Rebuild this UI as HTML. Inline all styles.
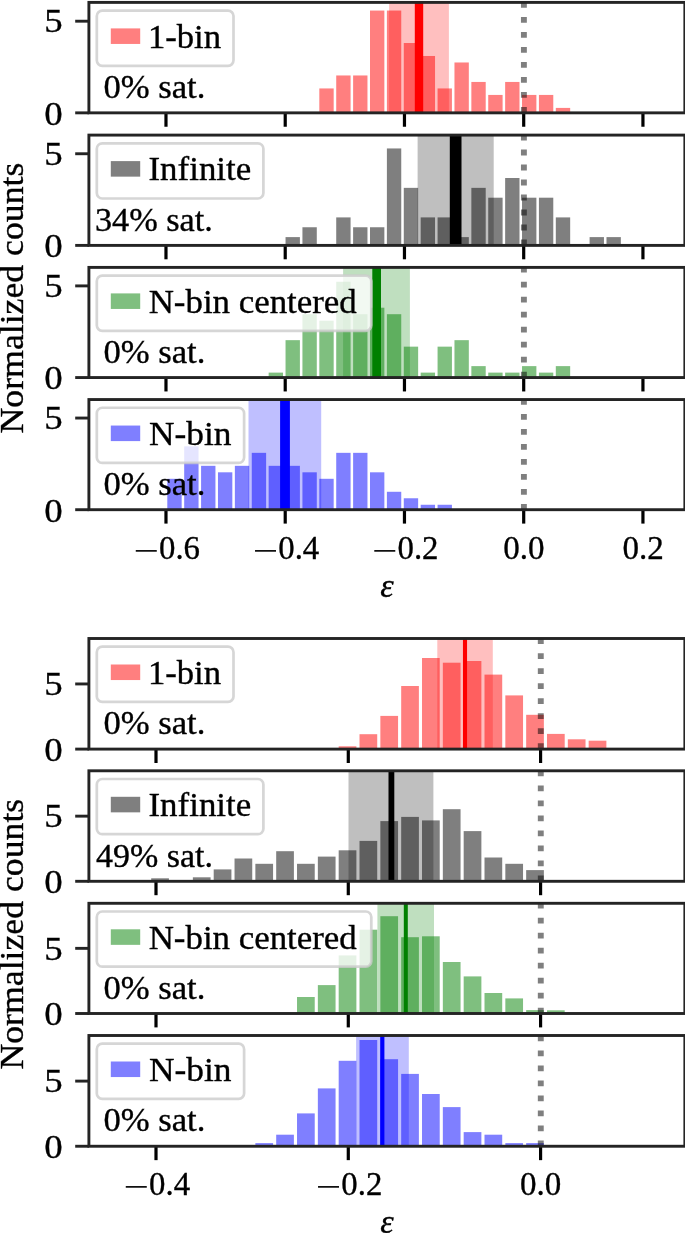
<!DOCTYPE html>
<html lang="en"><head><meta charset="utf-8"><title>Normalized counts histograms</title>
<style>html,body{margin:0;padding:0;background:#fff}svg{display:block}text{font-family:'Liberation Serif', serif;fill:#000;stroke:#000;stroke-width:0.35px}</style>
</head><body>
<svg width="685" height="1233" viewBox="0 0 685 1233">
<rect width="685" height="1233" fill="#fff"/>
<clipPath id="c2"><rect x="88.9" y="2.4" width="595.95" height="110.45"/></clipPath>
<g clip-path="url(#c2)">
<g fill="#ff0000" fill-opacity="0.5">
<rect x="319.32" y="88.44" width="14.36" height="24.41"/>
<rect x="336.22" y="75.46" width="14.36" height="37.39"/>
<rect x="353.11" y="75.46" width="14.36" height="37.39"/>
<rect x="370" y="10.56" width="14.36" height="102.29"/>
<rect x="386.89" y="10.56" width="14.36" height="102.29"/>
<rect x="403.78" y="43.01" width="14.36" height="69.84"/>
<rect x="420.68" y="55.99" width="14.36" height="56.86"/>
<rect x="437.57" y="88.44" width="14.36" height="24.41"/>
<rect x="454.46" y="62.48" width="14.36" height="50.37"/>
<rect x="471.35" y="81.95" width="14.36" height="30.9"/>
<rect x="488.24" y="94.93" width="14.36" height="17.92"/>
<rect x="505.14" y="81.95" width="14.36" height="30.9"/>
<rect x="522.03" y="94.93" width="14.36" height="17.92"/>
<rect x="538.92" y="94.93" width="14.36" height="17.92"/>
<rect x="555.81" y="107.91" width="14.36" height="4.94"/>
</g>
<rect x="389.1" y="2.4" width="59.8" height="110.45" fill="#ff0000" fill-opacity="0.25"/>
<rect x="414.8" y="2.4" width="8.4" height="110.45" fill="#ff0000"/>
<line x1="523.9" y1="112.85" x2="523.9" y2="-0.6" stroke="#000" stroke-opacity="0.5" stroke-width="5.9" stroke-dasharray="5.8 9.2"/>
</g>
<g stroke="#000" stroke-width="3.2">
<line x1="165.98" y1="112.85" x2="165.98" y2="126.75"/>
<line x1="285.22" y1="112.85" x2="285.22" y2="126.75"/>
<line x1="404.46" y1="112.85" x2="404.46" y2="126.75"/>
<line x1="523.7" y1="112.85" x2="523.7" y2="126.75"/>
<line x1="642.94" y1="112.85" x2="642.94" y2="126.75"/>
</g>
<g stroke="#242424" stroke-width="2.9">
<line x1="75.2" y1="112.85" x2="88.9" y2="112.85"/>
<line x1="75.2" y1="21.2" x2="88.9" y2="21.2"/>
</g>
<rect x="88.9" y="2.4" width="595.95" height="110.45" fill="none" stroke="#242424" stroke-width="2.9"/>
<text x="44.3" y="32.4" font-size="33.5" textLength="18.4" lengthAdjust="spacingAndGlyphs">5</text>
<text x="44.3" y="124.75" font-size="33.5" textLength="18.4" lengthAdjust="spacingAndGlyphs">0</text>
<text x="103.4" y="98.3" font-size="33.5" textLength="102" lengthAdjust="spacingAndGlyphs">0% sat.</text>
<rect x="96.8" y="10.6" width="136.7" height="55.2" rx="5.5" fill="#fff" fill-opacity="0.8" stroke="#ccc" stroke-opacity="0.8" stroke-width="2.7"/>
<rect x="110.8" y="28.4" width="29.4" height="15.55" fill="#ff0000" fill-opacity="0.5"/>
<text x="147.9" y="47.7" font-size="33.5" textLength="73.2" lengthAdjust="spacingAndGlyphs">1-bin</text>
<clipPath id="c135"><rect x="88.9" y="135.1" width="595.95" height="110.3"/></clipPath>
<g clip-path="url(#c135)">
<g fill="#000000" fill-opacity="0.5">
<rect x="285.54" y="237.1" width="14.36" height="8.3"/>
<rect x="302.43" y="227.25" width="14.36" height="18.15"/>
<rect x="336.22" y="217.4" width="14.36" height="28"/>
<rect x="353.11" y="227.25" width="14.36" height="18.15"/>
<rect x="370" y="227.25" width="14.36" height="18.15"/>
<rect x="386.89" y="148.45" width="14.36" height="96.95"/>
<rect x="403.78" y="187.85" width="14.36" height="57.55"/>
<rect x="420.68" y="217.4" width="14.36" height="28"/>
<rect x="437.57" y="217.4" width="14.36" height="28"/>
<rect x="454.46" y="237.1" width="14.36" height="8.3"/>
<rect x="471.35" y="187.85" width="14.36" height="57.55"/>
<rect x="488.24" y="197.7" width="14.36" height="47.7"/>
<rect x="505.14" y="178" width="14.36" height="67.4"/>
<rect x="522.03" y="197.7" width="14.36" height="47.7"/>
<rect x="538.92" y="197.7" width="14.36" height="47.7"/>
<rect x="555.81" y="217.4" width="14.36" height="28"/>
<rect x="589.6" y="237.1" width="14.36" height="8.3"/>
<rect x="606.49" y="237.1" width="14.36" height="8.3"/>
</g>
<rect x="417.6" y="135.1" width="76.1" height="110.3" fill="#000000" fill-opacity="0.25"/>
<rect x="449.8" y="135.1" width="11.7" height="110.3" fill="#000000"/>
<line x1="523.9" y1="245.4" x2="523.9" y2="132.1" stroke="#000" stroke-opacity="0.5" stroke-width="5.9" stroke-dasharray="5.8 9.2"/>
</g>
<g stroke="#000" stroke-width="3.2">
<line x1="165.98" y1="245.4" x2="165.98" y2="259.3"/>
<line x1="285.22" y1="245.4" x2="285.22" y2="259.3"/>
<line x1="404.46" y1="245.4" x2="404.46" y2="259.3"/>
<line x1="523.7" y1="245.4" x2="523.7" y2="259.3"/>
<line x1="642.94" y1="245.4" x2="642.94" y2="259.3"/>
</g>
<g stroke="#242424" stroke-width="2.9">
<line x1="75.2" y1="245.4" x2="88.9" y2="245.4"/>
<line x1="75.2" y1="153.75" x2="88.9" y2="153.75"/>
</g>
<rect x="88.9" y="135.1" width="595.95" height="110.3" fill="none" stroke="#242424" stroke-width="2.9"/>
<text x="44.3" y="164.95" font-size="33.5" textLength="18.4" lengthAdjust="spacingAndGlyphs">5</text>
<text x="44.3" y="257.3" font-size="33.5" textLength="18.4" lengthAdjust="spacingAndGlyphs">0</text>
<text x="94.9" y="231" font-size="33.5" textLength="118" lengthAdjust="spacingAndGlyphs">34% sat.</text>
<rect x="96.8" y="143.3" width="166.6" height="55.2" rx="5.5" fill="#fff" fill-opacity="0.8" stroke="#ccc" stroke-opacity="0.8" stroke-width="2.7"/>
<rect x="110.8" y="161.1" width="29.4" height="15.55" fill="#000000" fill-opacity="0.5"/>
<text x="148.5" y="180.4" font-size="33.5" textLength="102.7" lengthAdjust="spacingAndGlyphs">Infinite</text>
<clipPath id="c267"><rect x="88.9" y="267.4" width="595.95" height="110.15"/></clipPath>
<g clip-path="url(#c267)">
<g fill="#008000" fill-opacity="0.5">
<rect x="268.65" y="372.61" width="14.36" height="4.94"/>
<rect x="285.54" y="340.16" width="14.36" height="37.39"/>
<rect x="302.43" y="314.2" width="14.36" height="63.35"/>
<rect x="319.32" y="320.69" width="14.36" height="56.86"/>
<rect x="336.22" y="281.75" width="14.36" height="95.8"/>
<rect x="353.11" y="314.2" width="14.36" height="63.35"/>
<rect x="370" y="307.71" width="14.36" height="69.84"/>
<rect x="386.89" y="314.2" width="14.36" height="63.35"/>
<rect x="403.78" y="346.65" width="14.36" height="30.9"/>
<rect x="420.68" y="372.61" width="14.36" height="4.94"/>
<rect x="437.57" y="346.65" width="14.36" height="30.9"/>
<rect x="454.46" y="340.16" width="14.36" height="37.39"/>
<rect x="471.35" y="366.12" width="14.36" height="11.43"/>
<rect x="488.24" y="372.61" width="14.36" height="4.94"/>
<rect x="505.14" y="372.61" width="14.36" height="4.94"/>
<rect x="522.03" y="366.12" width="14.36" height="11.43"/>
<rect x="538.92" y="372.61" width="14.36" height="4.94"/>
<rect x="555.81" y="366.12" width="14.36" height="11.43"/>
</g>
<rect x="343.1" y="267.4" width="66.8" height="110.15" fill="#008000" fill-opacity="0.25"/>
<rect x="372.3" y="267.4" width="8.7" height="110.15" fill="#008000"/>
<line x1="523.9" y1="377.55" x2="523.9" y2="264.4" stroke="#000" stroke-opacity="0.5" stroke-width="5.9" stroke-dasharray="5.8 9.2"/>
</g>
<g stroke="#000" stroke-width="3.2">
<line x1="165.98" y1="377.55" x2="165.98" y2="391.45"/>
<line x1="285.22" y1="377.55" x2="285.22" y2="391.45"/>
<line x1="404.46" y1="377.55" x2="404.46" y2="391.45"/>
<line x1="523.7" y1="377.55" x2="523.7" y2="391.45"/>
<line x1="642.94" y1="377.55" x2="642.94" y2="391.45"/>
</g>
<g stroke="#242424" stroke-width="2.9">
<line x1="75.2" y1="377.55" x2="88.9" y2="377.55"/>
<line x1="75.2" y1="285.9" x2="88.9" y2="285.9"/>
</g>
<rect x="88.9" y="267.4" width="595.95" height="110.15" fill="none" stroke="#242424" stroke-width="2.9"/>
<text x="44.3" y="297.1" font-size="33.5" textLength="18.4" lengthAdjust="spacingAndGlyphs">5</text>
<text x="44.3" y="389.45" font-size="33.5" textLength="18.4" lengthAdjust="spacingAndGlyphs">0</text>
<text x="103.4" y="363.3" font-size="33.5" textLength="102" lengthAdjust="spacingAndGlyphs">0% sat.</text>
<rect x="96.8" y="275.6" width="274.5" height="55.2" rx="5.5" fill="#fff" fill-opacity="0.8" stroke="#ccc" stroke-opacity="0.8" stroke-width="2.7"/>
<rect x="110.8" y="293.4" width="29.4" height="15.55" fill="#008000" fill-opacity="0.5"/>
<text x="148.7" y="312.7" font-size="33.5" textLength="208.1" lengthAdjust="spacingAndGlyphs">N-bin centered</text>
<clipPath id="c399"><rect x="88.9" y="399.55" width="595.95" height="110.15"/></clipPath>
<g clip-path="url(#c399)">
<g fill="#0000ff" fill-opacity="0.5">
<rect x="167.3" y="478.8" width="14.36" height="30.9"/>
<rect x="184.19" y="446.35" width="14.36" height="63.35"/>
<rect x="201.08" y="465.82" width="14.36" height="43.88"/>
<rect x="217.97" y="472.31" width="14.36" height="37.39"/>
<rect x="234.86" y="465.82" width="14.36" height="43.88"/>
<rect x="251.76" y="452.84" width="14.36" height="56.86"/>
<rect x="268.65" y="465.82" width="14.36" height="43.88"/>
<rect x="285.54" y="465.82" width="14.36" height="43.88"/>
<rect x="302.43" y="472.31" width="14.36" height="37.39"/>
<rect x="319.32" y="478.8" width="14.36" height="30.9"/>
<rect x="336.22" y="452.84" width="14.36" height="56.86"/>
<rect x="353.11" y="452.84" width="14.36" height="56.86"/>
<rect x="370" y="472.31" width="14.36" height="37.39"/>
<rect x="386.89" y="491.78" width="14.36" height="17.92"/>
<rect x="403.78" y="498.27" width="14.36" height="11.43"/>
<rect x="420.68" y="504.76" width="14.36" height="4.94"/>
<rect x="437.57" y="504.76" width="14.36" height="4.94"/>
</g>
<rect x="248.5" y="399.55" width="72.7" height="110.15" fill="#0000ff" fill-opacity="0.25"/>
<rect x="280.1" y="399.55" width="9.8" height="110.15" fill="#0000ff"/>
<line x1="523.9" y1="509.7" x2="523.9" y2="396.55" stroke="#000" stroke-opacity="0.5" stroke-width="5.9" stroke-dasharray="5.8 9.2"/>
</g>
<g stroke="#000" stroke-width="3.2">
<line x1="165.98" y1="509.7" x2="165.98" y2="523.6"/>
<line x1="285.22" y1="509.7" x2="285.22" y2="523.6"/>
<line x1="404.46" y1="509.7" x2="404.46" y2="523.6"/>
<line x1="523.7" y1="509.7" x2="523.7" y2="523.6"/>
<line x1="642.94" y1="509.7" x2="642.94" y2="523.6"/>
</g>
<g stroke="#242424" stroke-width="2.9">
<line x1="75.2" y1="509.7" x2="88.9" y2="509.7"/>
<line x1="75.2" y1="418.05" x2="88.9" y2="418.05"/>
</g>
<rect x="88.9" y="399.55" width="595.95" height="110.15" fill="none" stroke="#242424" stroke-width="2.9"/>
<text x="44.3" y="429.25" font-size="33.5" textLength="18.4" lengthAdjust="spacingAndGlyphs">5</text>
<text x="44.3" y="521.6" font-size="33.5" textLength="18.4" lengthAdjust="spacingAndGlyphs">0</text>
<text x="103.4" y="495.45" font-size="33.5" textLength="102" lengthAdjust="spacingAndGlyphs">0% sat.</text>
<rect x="96.8" y="407.75" width="147.3" height="55.2" rx="5.5" fill="#fff" fill-opacity="0.8" stroke="#ccc" stroke-opacity="0.8" stroke-width="2.7"/>
<rect x="110.8" y="425.55" width="29.4" height="15.55" fill="#0000ff" fill-opacity="0.5"/>
<text x="148.9" y="444.85" font-size="33.5" textLength="82.5" lengthAdjust="spacingAndGlyphs">N-bin</text>
<clipPath id="c638"><rect x="88.9" y="638.5" width="595.95" height="110.6"/></clipPath>
<g clip-path="url(#c638)">
<g fill="#ff0000" fill-opacity="0.5">
<rect x="338.68" y="746.3" width="17.71" height="2.8"/>
<rect x="359.51" y="734.2" width="17.71" height="14.9"/>
<rect x="380.35" y="715.9" width="17.71" height="33.2"/>
<rect x="401.18" y="686" width="17.71" height="63.1"/>
<rect x="422.01" y="658" width="17.71" height="91.1"/>
<rect x="442.84" y="662.7" width="17.71" height="86.4"/>
<rect x="463.67" y="661" width="17.71" height="88.1"/>
<rect x="484.5" y="674.6" width="17.71" height="74.5"/>
<rect x="505.33" y="695.4" width="17.71" height="53.7"/>
<rect x="526.16" y="714.8" width="17.71" height="34.3"/>
<rect x="546.99" y="733.9" width="17.71" height="15.2"/>
<rect x="567.82" y="739.3" width="17.71" height="9.8"/>
<rect x="588.66" y="740.7" width="17.71" height="8.4"/>
</g>
<rect x="437.3" y="638.5" width="55.5" height="110.6" fill="#ff0000" fill-opacity="0.25"/>
<rect x="462.95" y="638.5" width="4.1" height="110.6" fill="#ff0000"/>
<line x1="540.78" y1="749.1" x2="540.78" y2="635.5" stroke="#000" stroke-opacity="0.5" stroke-width="5.9" stroke-dasharray="5.8 9.2"/>
</g>
<g stroke="#000" stroke-width="3.2">
<line x1="156" y1="749.1" x2="156" y2="763"/>
<line x1="348.29" y1="749.1" x2="348.29" y2="763"/>
<line x1="540.58" y1="749.1" x2="540.58" y2="763"/>
</g>
<g stroke="#242424" stroke-width="2.9">
<line x1="75.2" y1="749.1" x2="88.9" y2="749.1"/>
<line x1="75.2" y1="683.95" x2="88.9" y2="683.95"/>
</g>
<rect x="88.9" y="638.5" width="595.95" height="110.6" fill="none" stroke="#242424" stroke-width="2.9"/>
<text x="44.3" y="695.15" font-size="33.5" textLength="18.4" lengthAdjust="spacingAndGlyphs">5</text>
<text x="44.3" y="761" font-size="33.5" textLength="18.4" lengthAdjust="spacingAndGlyphs">0</text>
<text x="103.4" y="734.4" font-size="33.5" textLength="102" lengthAdjust="spacingAndGlyphs">0% sat.</text>
<rect x="96.8" y="646.7" width="136.7" height="55.2" rx="5.5" fill="#fff" fill-opacity="0.8" stroke="#ccc" stroke-opacity="0.8" stroke-width="2.7"/>
<rect x="110.8" y="664.5" width="29.4" height="15.55" fill="#ff0000" fill-opacity="0.5"/>
<text x="147.9" y="683.8" font-size="33.5" textLength="73.2" lengthAdjust="spacingAndGlyphs">1-bin</text>
<clipPath id="c770"><rect x="88.9" y="770.8" width="595.95" height="110.5"/></clipPath>
<g clip-path="url(#c770)">
<g fill="#000000" fill-opacity="0.5">
<rect x="151.2" y="878.3" width="17.71" height="3"/>
<rect x="192.87" y="877.3" width="17.71" height="4"/>
<rect x="213.7" y="869.4" width="17.71" height="11.9"/>
<rect x="234.53" y="858.5" width="17.71" height="22.8"/>
<rect x="255.36" y="863.8" width="17.71" height="17.5"/>
<rect x="276.19" y="851.2" width="17.71" height="30.1"/>
<rect x="297.02" y="863.8" width="17.71" height="17.5"/>
<rect x="317.85" y="856.6" width="17.71" height="24.7"/>
<rect x="338.68" y="850.3" width="17.71" height="31"/>
<rect x="359.51" y="840.9" width="17.71" height="40.4"/>
<rect x="380.35" y="821.1" width="17.71" height="60.2"/>
<rect x="401.18" y="816.9" width="17.71" height="64.4"/>
<rect x="422.01" y="820.4" width="17.71" height="60.9"/>
<rect x="442.84" y="809.2" width="17.71" height="72.1"/>
<rect x="463.67" y="831.1" width="17.71" height="50.2"/>
<rect x="484.5" y="857.5" width="17.71" height="23.8"/>
<rect x="505.33" y="863.8" width="17.71" height="17.5"/>
<rect x="526.16" y="870.1" width="17.71" height="11.2"/>
</g>
<rect x="348.5" y="770.8" width="84.9" height="110.5" fill="#000000" fill-opacity="0.25"/>
<rect x="388.5" y="770.8" width="5.8" height="110.5" fill="#000000"/>
<line x1="540.78" y1="881.3" x2="540.78" y2="767.8" stroke="#000" stroke-opacity="0.5" stroke-width="5.9" stroke-dasharray="5.8 9.2"/>
</g>
<g stroke="#000" stroke-width="3.2">
<line x1="156" y1="881.3" x2="156" y2="895.2"/>
<line x1="348.29" y1="881.3" x2="348.29" y2="895.2"/>
<line x1="540.58" y1="881.3" x2="540.58" y2="895.2"/>
</g>
<g stroke="#242424" stroke-width="2.9">
<line x1="75.2" y1="881.3" x2="88.9" y2="881.3"/>
<line x1="75.2" y1="816.15" x2="88.9" y2="816.15"/>
</g>
<rect x="88.9" y="770.8" width="595.95" height="110.5" fill="none" stroke="#242424" stroke-width="2.9"/>
<text x="44.3" y="827.35" font-size="33.5" textLength="18.4" lengthAdjust="spacingAndGlyphs">5</text>
<text x="44.3" y="893.2" font-size="33.5" textLength="18.4" lengthAdjust="spacingAndGlyphs">0</text>
<text x="96" y="866.7" font-size="33.5" textLength="116.9" lengthAdjust="spacingAndGlyphs">49% sat.</text>
<rect x="96.8" y="779" width="166.6" height="55.2" rx="5.5" fill="#fff" fill-opacity="0.8" stroke="#ccc" stroke-opacity="0.8" stroke-width="2.7"/>
<rect x="110.8" y="796.8" width="29.4" height="15.55" fill="#000000" fill-opacity="0.5"/>
<text x="148.5" y="816.1" font-size="33.5" textLength="102.7" lengthAdjust="spacingAndGlyphs">Infinite</text>
<clipPath id="c903"><rect x="88.9" y="903.3" width="595.95" height="110.2"/></clipPath>
<g clip-path="url(#c903)">
<g fill="#008000" fill-opacity="0.5">
<rect x="297.02" y="997" width="17.71" height="16.5"/>
<rect x="317.85" y="985.1" width="17.71" height="28.4"/>
<rect x="338.68" y="955.4" width="17.71" height="58.1"/>
<rect x="359.51" y="929.7" width="17.71" height="83.8"/>
<rect x="380.35" y="916.2" width="17.71" height="97.3"/>
<rect x="401.18" y="937.2" width="17.71" height="76.3"/>
<rect x="422.01" y="936.3" width="17.71" height="77.2"/>
<rect x="442.84" y="962" width="17.71" height="51.5"/>
<rect x="463.67" y="976.4" width="17.71" height="37.1"/>
<rect x="484.5" y="993" width="17.71" height="20.5"/>
<rect x="505.33" y="998.4" width="17.71" height="15.1"/>
<rect x="526.16" y="1010.1" width="17.71" height="3.4"/>
<rect x="546.99" y="1010.3" width="17.71" height="3.2"/>
</g>
<rect x="377.4" y="903.3" width="56.6" height="110.2" fill="#008000" fill-opacity="0.25"/>
<rect x="403.8" y="903.3" width="4" height="110.2" fill="#008000"/>
<line x1="540.78" y1="1013.5" x2="540.78" y2="900.3" stroke="#000" stroke-opacity="0.5" stroke-width="5.9" stroke-dasharray="5.8 9.2"/>
</g>
<g stroke="#000" stroke-width="3.2">
<line x1="156" y1="1013.5" x2="156" y2="1027.4"/>
<line x1="348.29" y1="1013.5" x2="348.29" y2="1027.4"/>
<line x1="540.58" y1="1013.5" x2="540.58" y2="1027.4"/>
</g>
<g stroke="#242424" stroke-width="2.9">
<line x1="75.2" y1="1013.5" x2="88.9" y2="1013.5"/>
<line x1="75.2" y1="948.35" x2="88.9" y2="948.35"/>
</g>
<rect x="88.9" y="903.3" width="595.95" height="110.2" fill="none" stroke="#242424" stroke-width="2.9"/>
<text x="44.3" y="959.55" font-size="33.5" textLength="18.4" lengthAdjust="spacingAndGlyphs">5</text>
<text x="44.3" y="1025.4" font-size="33.5" textLength="18.4" lengthAdjust="spacingAndGlyphs">0</text>
<text x="103.4" y="999.2" font-size="33.5" textLength="102" lengthAdjust="spacingAndGlyphs">0% sat.</text>
<rect x="96.8" y="911.5" width="274.5" height="55.2" rx="5.5" fill="#fff" fill-opacity="0.8" stroke="#ccc" stroke-opacity="0.8" stroke-width="2.7"/>
<rect x="110.8" y="929.3" width="29.4" height="15.55" fill="#008000" fill-opacity="0.5"/>
<text x="148.7" y="948.6" font-size="33.5" textLength="208.1" lengthAdjust="spacingAndGlyphs">N-bin centered</text>
<clipPath id="c1035"><rect x="88.9" y="1035.5" width="595.95" height="110.75"/></clipPath>
<g clip-path="url(#c1035)">
<g fill="#0000ff" fill-opacity="0.5">
<rect x="255.36" y="1143.1" width="17.71" height="3.15"/>
<rect x="276.19" y="1134.7" width="17.71" height="11.55"/>
<rect x="297.02" y="1113.4" width="17.71" height="32.85"/>
<rect x="317.85" y="1088.4" width="17.71" height="57.85"/>
<rect x="338.68" y="1060.8" width="17.71" height="85.45"/>
<rect x="359.51" y="1040" width="17.71" height="106.25"/>
<rect x="380.35" y="1059.2" width="17.71" height="87.05"/>
<rect x="401.18" y="1073.9" width="17.71" height="72.35"/>
<rect x="422.01" y="1094" width="17.71" height="52.25"/>
<rect x="442.84" y="1107.1" width="17.71" height="39.15"/>
<rect x="463.67" y="1132.1" width="17.71" height="14.15"/>
<rect x="484.5" y="1134.7" width="17.71" height="11.55"/>
<rect x="505.33" y="1143.1" width="17.71" height="3.15"/>
<rect x="526.16" y="1143.1" width="17.71" height="3.15"/>
</g>
<rect x="356.1" y="1035.5" width="52.7" height="110.75" fill="#0000ff" fill-opacity="0.25"/>
<rect x="380.2" y="1035.5" width="4.2" height="110.75" fill="#0000ff"/>
<line x1="540.78" y1="1146.25" x2="540.78" y2="1032.5" stroke="#000" stroke-opacity="0.5" stroke-width="5.9" stroke-dasharray="5.8 9.2"/>
</g>
<g stroke="#000" stroke-width="3.2">
<line x1="156" y1="1146.25" x2="156" y2="1160.15"/>
<line x1="348.29" y1="1146.25" x2="348.29" y2="1160.15"/>
<line x1="540.58" y1="1146.25" x2="540.58" y2="1160.15"/>
</g>
<g stroke="#242424" stroke-width="2.9">
<line x1="75.2" y1="1146.25" x2="88.9" y2="1146.25"/>
<line x1="75.2" y1="1081.1" x2="88.9" y2="1081.1"/>
</g>
<rect x="88.9" y="1035.5" width="595.95" height="110.75" fill="none" stroke="#242424" stroke-width="2.9"/>
<text x="44.3" y="1092.3" font-size="33.5" textLength="18.4" lengthAdjust="spacingAndGlyphs">5</text>
<text x="44.3" y="1158.15" font-size="33.5" textLength="18.4" lengthAdjust="spacingAndGlyphs">0</text>
<text x="103.4" y="1131.4" font-size="33.5" textLength="102" lengthAdjust="spacingAndGlyphs">0% sat.</text>
<rect x="96.8" y="1043.7" width="147.3" height="55.2" rx="5.5" fill="#fff" fill-opacity="0.8" stroke="#ccc" stroke-opacity="0.8" stroke-width="2.7"/>
<rect x="110.8" y="1061.5" width="29.4" height="15.55" fill="#0000ff" fill-opacity="0.5"/>
<text x="148.9" y="1080.8" font-size="33.5" textLength="82.5" lengthAdjust="spacingAndGlyphs">N-bin</text>
<text x="133.83" y="562.2" font-size="33.5" textLength="25.5" lengthAdjust="spacingAndGlyphs" style="stroke:none">−</text>
<text x="159.03" y="559.4" font-size="33.5" textLength="41" lengthAdjust="spacingAndGlyphs">0.6</text>
<text x="253.07" y="562.2" font-size="33.5" textLength="25.5" lengthAdjust="spacingAndGlyphs" style="stroke:none">−</text>
<text x="278.27" y="559.4" font-size="33.5" textLength="41" lengthAdjust="spacingAndGlyphs">0.4</text>
<text x="372.31" y="562.2" font-size="33.5" textLength="25.5" lengthAdjust="spacingAndGlyphs" style="stroke:none">−</text>
<text x="397.51" y="559.4" font-size="33.5" textLength="41" lengthAdjust="spacingAndGlyphs">0.2</text>
<text x="503.15" y="559.4" font-size="33.5" textLength="41.3" lengthAdjust="spacingAndGlyphs">0.0</text>
<text x="622.39" y="559.4" font-size="33.5" textLength="41.3" lengthAdjust="spacingAndGlyphs">0.2</text>
<text x="123.85" y="1198.1" font-size="33.5" textLength="25.5" lengthAdjust="spacingAndGlyphs" style="stroke:none">−</text>
<text x="149.05" y="1195.3" font-size="33.5" textLength="41" lengthAdjust="spacingAndGlyphs">0.4</text>
<text x="316.14" y="1198.1" font-size="33.5" textLength="25.5" lengthAdjust="spacingAndGlyphs" style="stroke:none">−</text>
<text x="341.34" y="1195.3" font-size="33.5" textLength="41" lengthAdjust="spacingAndGlyphs">0.2</text>
<text x="520.03" y="1195.3" font-size="33.5" textLength="41.3" lengthAdjust="spacingAndGlyphs">0.0</text>
<text x="386.9" y="596.6" font-size="34" text-anchor="middle" font-style="italic">ε</text>
<text x="386.9" y="1233" font-size="34" text-anchor="middle" font-style="italic">ε</text>
<text transform="translate(23.45 298.05) rotate(-90)" font-size="33.5" text-anchor="middle" textLength="270.8" lengthAdjust="spacingAndGlyphs">Normalized counts</text>
<text transform="translate(23.45 934.15) rotate(-90)" font-size="33.5" text-anchor="middle" textLength="270.8" lengthAdjust="spacingAndGlyphs">Normalized counts</text>
</svg></body></html>
